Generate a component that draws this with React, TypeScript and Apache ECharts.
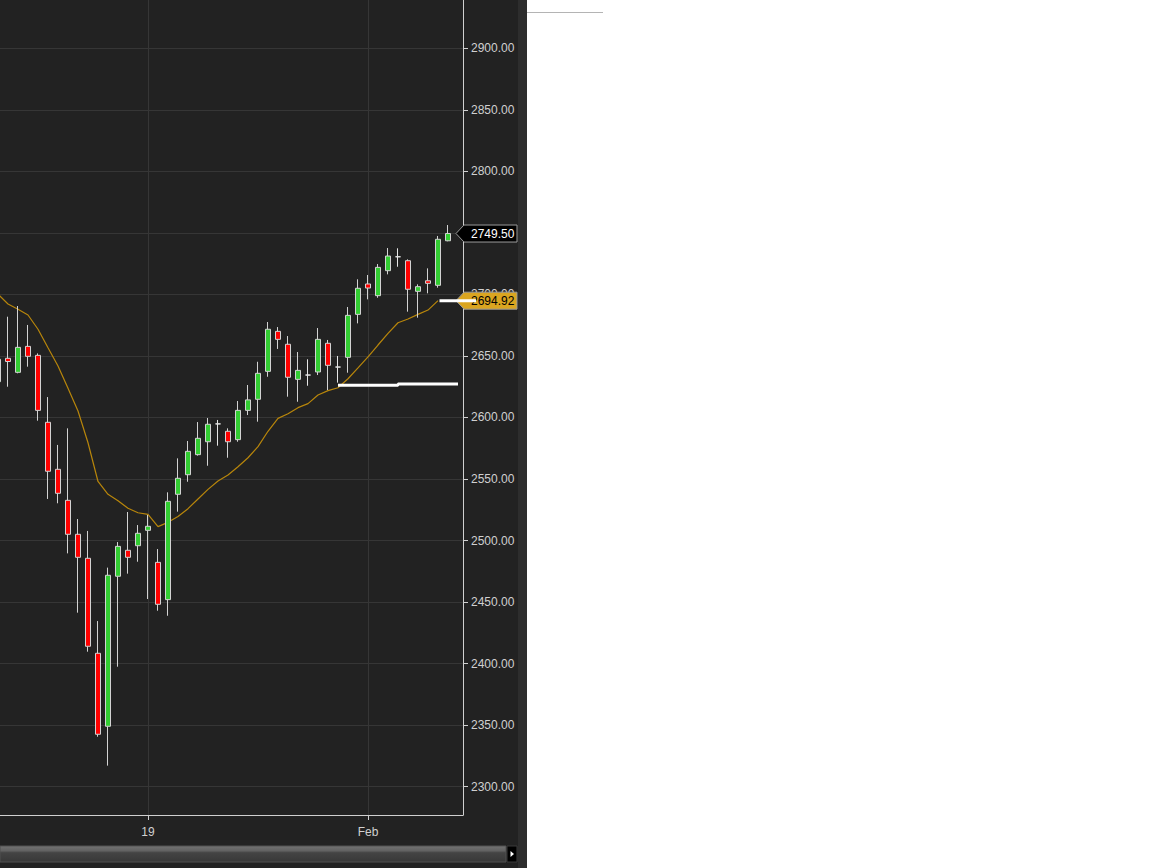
import React, { useEffect, useRef } from "react";
import * as echarts from "echarts";

// Trading days (first one is only partly visible, last one is an empty slot)
const dates = [
  "2018-12-10", "2018-12-11", "2018-12-12", "2018-12-13", "2018-12-14",
  "2018-12-17", "2018-12-18", "2018-12-19", "2018-12-20", "2018-12-21",
  "2018-12-24", "2018-12-26", "2018-12-27", "2018-12-28", "2018-12-31",
  "2019-01-02", "2019-01-03", "2019-01-04", "2019-01-07", "2019-01-08",
  "2019-01-09", "2019-01-10", "2019-01-11", "2019-01-14", "2019-01-15",
  "2019-01-16", "2019-01-17", "2019-01-18", "2019-01-21", "2019-01-22",
  "2019-01-23", "2019-01-24", "2019-01-25", "2019-01-28", "2019-01-29",
  "2019-01-30", "2019-01-31", "2019-02-01", "2019-02-04", "2019-02-05",
  "2019-02-06", "2019-02-07", "2019-02-08", "2019-02-11", "2019-02-12",
  "2019-02-13", "2019-02-14",
];

const opens = [
  2629.1, 2648.1, 2636.7, 2657.8, 2650.5, 2596.1, 2557.9, 2532.7, 2505.1, 2485.6,
  2408.4, 2349.1, 2471.0, 2492.1, 2495.8, 2508.3, 2482.3, 2452.0, 2537.6, 2553.5,
  2569.8, 2580.3, 2594.8, 2588.8, 2582.0, 2605.8, 2614.8, 2637.5, 2670.0, 2659.5,
  2631.0, 2634.5, 2637.0, 2660.3, 2641.0, 2648.9, 2683.8, 2708.5, 2699.0, 2719.3,
  2730.6, 2727.4, 2702.5, 2711.1, 2707.4, 2743.6,
];
const closes = [
  2647.3, 2645.5, 2657.0, 2649.7, 2605.8, 2556.3, 2538.4, 2505.1, 2486.4, 2414.1,
  2342.6, 2471.8, 2495.3, 2486.4, 2505.9, 2511.6, 2448.2, 2531.9, 2550.6, 2572.5,
  2583.1, 2594.5, 2594.8, 2580.3, 2605.8, 2614.3, 2635.9, 2671.7, 2663.5, 2632.7,
  2638.3, 2634.5, 2663.5, 2642.4, 2641.0, 2683.0, 2705.0, 2705.2, 2722.0, 2731.2,
  2730.6, 2704.2, 2706.3, 2709.0, 2744.8, 2749.5,
];
const lows = [
  2624.0, 2625.0, 2635.9, 2641.3, 2597.4, 2533.8, 2530.3, 2489.6, 2441.4, 2409.7,
  2340.6, 2317.1, 2397.5, 2473.1, 2482.8, 2452.5, 2443.0, 2438.9, 2523.5, 2547.8,
  2569.0, 2560.8, 2577.1, 2567.3, 2580.3, 2602.0, 2596.6, 2633.1, 2655.7, 2616.9,
  2612.8, 2625.8, 2634.5, 2622.3, 2628.3, 2636.4, 2676.5, 2696.0, 2697.3, 2716.3,
  2722.5, 2686.0, 2681.1, 2700.9, 2705.5, 2743.2,
];
const highs = [
  2656.0, 2681.9, 2690.6, 2675.2, 2652.1, 2616.6, 2577.7, 2591.2, 2517.5, 2507.8,
  2434.6, 2478.0, 2498.8, 2523.2, 2512.6, 2520.8, 2493.1, 2539.2, 2566.8, 2580.9,
  2596.3, 2599.6, 2598.0, 2591.2, 2613.4, 2626.4, 2645.3, 2677.6, 2673.5, 2666.2,
  2653.2, 2647.3, 2672.7, 2663.0, 2650.0, 2689.8, 2712.3, 2715.8, 2724.7, 2737.7,
  2737.5, 2728.5, 2708.2, 2721.2, 2747.5, 2756.4,
];

// Moving average as drawn (ends one bar before the last candle)
const movingAverage = [
  2700.2, 2692.2, 2687.9, 2683.3, 2671.7, 2656.7, 2641.8, 2623.7, 2605.3, 2579.5,
  2548.0, 2537.6, 2532.4, 2526.2, 2522.6, 2521.3, 2511.3, 2514.8, 2519.5, 2525.9,
  2533.8, 2541.6, 2548.4, 2553.3, 2560.0, 2567.3, 2576.3, 2588.8, 2599.3, 2603.0,
  2608.0, 2611.3, 2618.3, 2621.8, 2624.2, 2631.5, 2640.3, 2649.2, 2658.9, 2668.4,
  2677.0, 2680.0, 2683.8, 2687.3, 2694.92,
];

// White step level line
const levelLine: (number | null)[] = [
  null, null, null, null, null, null, null, null, null, null,
  null, null, null, null, null, null, null, null, null, null,
  null, null, null, null, null, null, null, null, null, null,
  null, null, null, null, 2626.2, 2626.2, 2626.2, 2626.2, 2626.2, 2626.2,
  2627.2, 2627.2, 2627.2, 2627.2, 2627.2, 2627.2, 2627.2,
];

const yTickValues = [2300, 2350, 2400, 2450, 2500, 2550, 2600, 2650, 2700, 2750, 2800, 2850, 2900];
const xTickDates = ["2019-01-02", "2019-02-01"];
const xTickLabels = ["19", "Feb"];

const lastPrice = 2749.5;
const maLastValue = 2694.92;

const FONT = "'Liberation Sans', Arial, sans-serif";
const OFF = 7; // chart canvas starts 7px left of the visible panel

export default function App() {
  const ref = useRef<HTMLDivElement>(null);

  useEffect(() => {
    const chart = echarts.init(ref.current!, undefined, { renderer: "svg" });
    const candleData = opens.map((o, i) => [o, closes[i], lows[i], highs[i]]);
    const isTick = (_i: number, v: string) => xTickDates.indexOf(v) >= 0;

    chart.setOption({
      animation: false,
      backgroundColor: "#222222",
      grid: { left: 0, right: 55, top: 0, bottom: 53, containLabel: false },
      xAxis: {
        type: "category",
        data: dates,
        boundaryGap: true,
        axisLine: { show: true, onZero: false, lineStyle: { color: "#d0d0d0", width: 1 } },
        axisTick: { show: true, alignWithLabel: true, interval: isTick, length: 5, lineStyle: { color: "#d0d0d0" } },
        axisLabel: {
          interval: isTick,
          margin: 11,
          color: "#d0d0d0",
          fontSize: 12,
          fontFamily: FONT,
          formatter: (v: string) => {
            const k = xTickDates.indexOf(v);
            return k >= 0 ? xTickLabels[k] : "";
          },
        },
        splitLine: { show: true, interval: isTick, alignWithLabel: true, lineStyle: { color: "#363636", width: 1 } },
      },
      yAxis: {
        type: "value",
        position: "right",
        min: 2277,
        max: 2939.25,
        scale: true,
        axisLine: { show: true, lineStyle: { color: "#d0d0d0", width: 1 } },
        axisTick: { show: true, length: 5, customValues: yTickValues, lineStyle: { color: "#d0d0d0" } },
        axisLabel: {
          customValues: yTickValues,
          margin: 8,
          color: "#d0d0d0",
          fontSize: 12,
          fontFamily: FONT,
          formatter: (v: number) => v.toFixed(2),
        },
        splitLine: { show: true, lineStyle: { color: "#363636", width: 1 } },
      },
      series: [
        {
          type: "line",
          name: "MA",
          data: movingAverage,
          symbol: "none",
          z: 1,
          lineStyle: { color: "#b8860b", width: 1.2 },
        },
        {
          type: "candlestick",
          name: "Price",
          data: candleData,
          barWidth: 6,
          z: 2,
          itemStyle: {
            color: "#32cd32",
            color0: "#ff0000",
            borderColor: "#d3d3d3",
            borderColor0: "#d3d3d3",
            borderColorDoji: "#e6e6e6",
            borderWidth: 1,
          },
        },
        {
          type: "line",
          name: "Level",
          data: levelLine.map((v) => (v == null ? "-" : v)),
          step: "end",
          symbol: "none",
          z: 3,
          lineStyle: { color: "#ffffff", width: 3 },
        },
      ],
    });

    const yLast = chart.convertToPixel({ yAxisIndex: 0 }, lastPrice) as number;
    const yMa = chart.convertToPixel({ yAxisIndex: 0 }, maLastValue) as number;
    const xMa = chart.convertToPixel({ xAxisIndex: 0 }, dates[movingAverage.length - 1]) as number;

    const tag = (y: number, fill: string, textColor: string, text: string, z: number) => [
      {
        type: "polygon",
        z,
        shape: {
          points: [
            [OFF + 456, y], [OFF + 464, y - 8.5], [OFF + 517, y - 8.5],
            [OFF + 517, y + 8.5], [OFF + 464, y + 8.5],
          ],
        },
        style: { fill, stroke: "#9a9a9a", lineWidth: 1 },
      },
      {
        type: "text",
        z: z + 1,
        x: OFF + 471,
        y: y,
        style: { text, fill: textColor, fontSize: 12, fontFamily: FONT, verticalAlign: "middle", align: "left" },
      },
    ];

    chart.setOption({
      graphic: [
        ...tag(yLast, "#000000", "#ffffff", lastPrice.toFixed(2), 100),
        ...tag(yMa, "#daa520", "#000000", maLastValue.toFixed(2), 100),
        {
          type: "line",
          z: 110,
          shape: { x1: xMa + 1.5, y1: yMa, x2: OFF + 476, y2: yMa },
          style: { stroke: "#ffffff", lineWidth: 3 },
        },
        {
          type: "rect",
          z: 100,
          shape: { x: OFF, y: 846, width: 506, height: 16 },
          style: {
            fill: new echarts.graphic.LinearGradient(0, 0, 0, 1, [
              { offset: 0, color: "#727272" },
              { offset: 0.3, color: "#626262" },
              { offset: 0.42, color: "#444444" },
              { offset: 1, color: "#383838" },
            ]),
            stroke: "#505050",
            lineWidth: 1,
          },
        },
        {
          type: "rect",
          z: 100,
          shape: { x: OFF + 507, y: 846, width: 10, height: 16 },
          style: { fill: "#000000", stroke: "#3a3a3a", lineWidth: 1 },
        },
        {
          type: "polygon",
          z: 101,
          shape: { points: [[OFF + 510.5, 851], [OFF + 510.5, 857], [OFF + 514, 854]] },
          style: { fill: "#ffffff" },
        },
      ],
    });

    return () => chart.dispose();
  }, []);

  return (
    <div style={{ position: "fixed", left: 0, top: 0, width: 1152, height: 868, background: "#ffffff", overflow: "hidden" }}>
      <div style={{ position: "absolute", left: 0, top: 0, width: 518, height: 868, overflow: "hidden", background: "#222222" }}>
        <div ref={ref} style={{ position: "absolute", left: -OFF, top: 0, width: 518 + OFF, height: 868 }} />
      </div>
      <div style={{ position: "absolute", left: 518, top: 0, width: 9, height: 868, background: "#2d2d2d" }} />
      <div style={{ position: "absolute", left: 527, top: 12, width: 76, height: 1, background: "#b4b4b4" }} />
    </div>
  );
}
